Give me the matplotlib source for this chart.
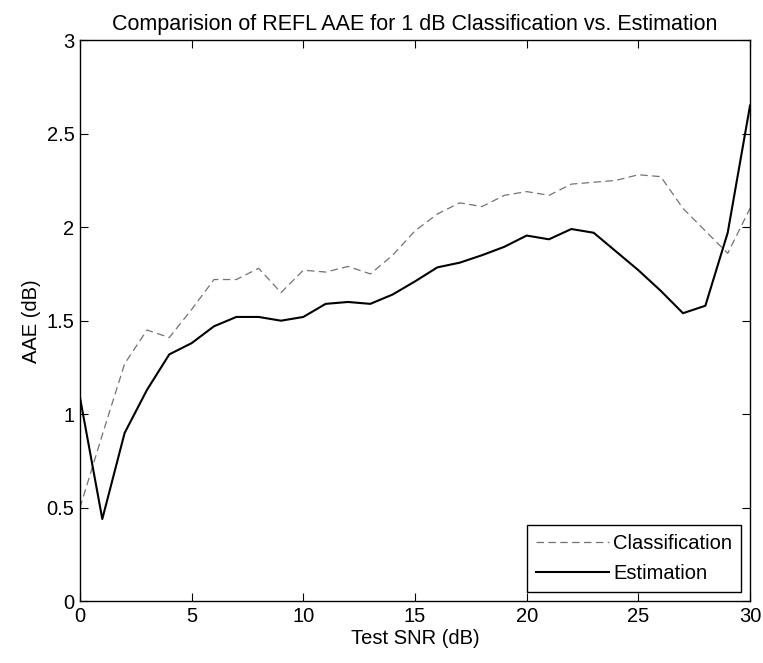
import matplotlib.pyplot as plt
from matplotlib.ticker import FormatStrFormatter

plt.rcParams['font.family'] = ['Liberation Sans', 'DejaVu Sans']

snr = list(range(0, 31))
classification = [0.50, 0.89, 1.27, 1.45, 1.41, 1.56, 1.72, 1.72, 1.78, 1.65,
                  1.77, 1.76, 1.79, 1.75, 1.85, 1.98, 2.07, 2.13, 2.11, 2.17,
                  2.19, 2.17, 2.23, 2.24, 2.25, 2.28, 2.27, 2.10, 1.98, 1.86,
                  2.10]
estimation = [1.09, 0.44, 0.90, 1.13, 1.32, 1.38, 1.47, 1.52, 1.52, 1.50,
              1.52, 1.59, 1.60, 1.59, 1.64, 1.71, 1.785, 1.81, 1.85, 1.895,
              1.955, 1.935, 1.99, 1.97, 1.87, 1.77, 1.66, 1.54, 1.58, 1.97,
              2.65]

fig = plt.figure(figsize=(7.63, 6.63), dpi=100)
ax = fig.add_axes([0.1048, 0.093, 0.8782, 0.8466])

ax.plot(snr, classification, color='0.45', linewidth=0.9, dashes=(6, 3.5),
        label='Classification')
ax.plot(snr, estimation, color='black', linewidth=1.5, label='Estimation')

ax.set_xlim(0, 30)
ax.set_ylim(0, 3)
ax.set_xticks([0, 5, 10, 15, 20, 25, 30])
ax.set_yticks([0, 0.5, 1, 1.5, 2, 2.5, 3])
ax.yaxis.set_major_formatter(FormatStrFormatter('%g'))
ax.tick_params(direction='in', top=True, right=True, length=6, labelsize=14.5,
               pad=4)
for s in ax.spines.values():
    s.set_linewidth(1.0)

ax.set_title('Comparision of REFL AAE for 1 dB Classification vs. Estimation',
             fontsize=15.5, pad=7)
ax.set_xlabel('Test SNR (dB)', fontsize=14.5, labelpad=2)
ax.set_ylabel('AAE (dB)', fontsize=14.5, labelpad=4)

leg = ax.legend(loc='lower right', fontsize=14.5, handlelength=3.6,
                handletextpad=0.2, borderaxespad=0.45, fancybox=False,
                framealpha=1, edgecolor='black', borderpad=0.45,
                labelspacing=0.55)
leg.get_frame().set_linewidth(1.0)

fig.savefig('out.png', dpi=100)
